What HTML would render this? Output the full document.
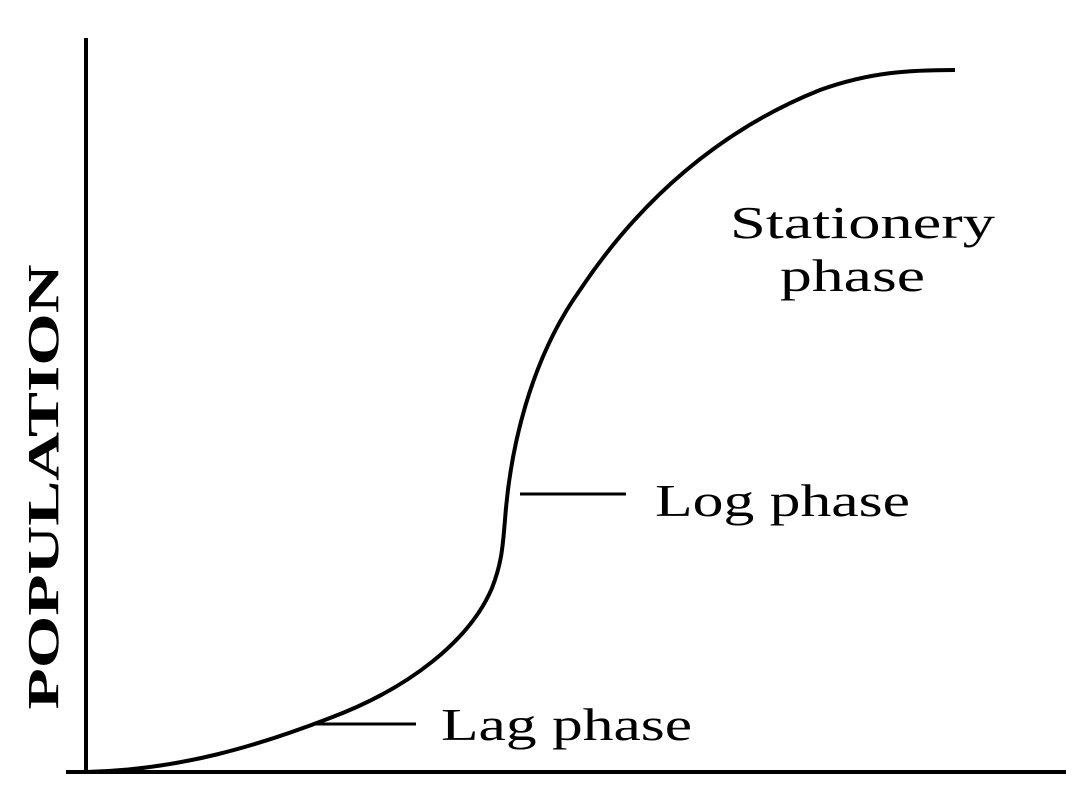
<!DOCTYPE html>
<html><head><style>
html,body{margin:0;padding:0;background:#fff;width:1090px;height:789px;overflow:hidden}
svg{display:block}
</style></head><body>
<svg width="1090" height="789" viewBox="0 0 1090 789">
<rect width="1090" height="789" fill="#fff"/>
<line x1="86" y1="38" x2="86" y2="774" stroke="#000" stroke-width="4"/>
<line x1="66" y1="772" x2="1066" y2="772" stroke="#000" stroke-width="4"/>
<path d="M86,772 C180,770 260,745 330,718 C410,688 470,640 492,588 C503,560 503,540 505,520 C510,450 530,360 580,290 C640,200 720,130 820,90 C870,72 910,70 955,70" fill="none" stroke="#000" stroke-width="4"/>
<line x1="520" y1="494" x2="626" y2="494" stroke="#000" stroke-width="3"/>
<line x1="315" y1="724" x2="416" y2="724" stroke="#000" stroke-width="3"/>
<g font-family="'Liberation Serif',serif" font-size="46" fill="#000">
<text x="730" y="238" textLength="265" lengthAdjust="spacingAndGlyphs">Stationery</text>
<text x="780" y="291" textLength="145" lengthAdjust="spacingAndGlyphs">phase</text>
<text x="655" y="516" textLength="255" lengthAdjust="spacingAndGlyphs">Log phase</text>
<text x="441" y="740" textLength="251" lengthAdjust="spacingAndGlyphs">Lag phase</text>
</g>
<text transform="translate(58,487) rotate(-90)" text-anchor="middle" font-family="'Liberation Serif',serif" font-weight="bold" font-size="44" fill="#000" textLength="445" lengthAdjust="spacingAndGlyphs">POPULATION</text>
</svg>
</body></html>
